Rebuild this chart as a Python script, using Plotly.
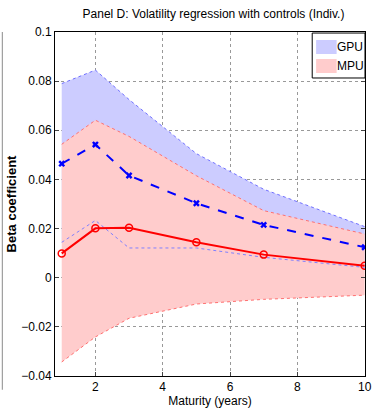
import plotly.graph_objects as go

maturity = [1, 2, 3, 5, 7, 10]
gpu_beta = [0.0464, 0.0542, 0.0416, 0.0303, 0.0215, 0.0124]
gpu_upper = [0.0790, 0.0845, 0.0725, 0.0505, 0.0360, 0.0208]
gpu_lower = [0.0144, 0.0233, 0.0121, 0.0121, 0.0083, 0.0042]
mpu_beta = [0.0099, 0.0201, 0.0203, 0.0144, 0.0094, 0.0049]
mpu_upper = [0.0543, 0.0641, 0.0575, 0.0415, 0.0273, 0.0178]
mpu_lower = [-0.0343, -0.0241, -0.0165, -0.0107, -0.0088, -0.0071]

series_names = ["GPU", "MPU"]
x_ticks = [2, 4, 6, 8, 10]
y_ticks = [-0.04, -0.02, 0, 0.02, 0.04, 0.06, 0.08, 0.1]
y_tick_text = ["\u22120.04", "\u22120.02", "0", "0.02", "0.04", "0.06", "0.08", "0.1"]

FONT = "Liberation Sans, Arial, sans-serif"
BLUE_FILL = "#ccccff"
RED_FILL = "#ffcccc"

fig = go.Figure()

# GPU band
fig.add_trace(go.Scatter(
    x=maturity + maturity[::-1], y=gpu_upper + gpu_lower[::-1],
    fill="toself", fillcolor=BLUE_FILL, mode="lines",
    line=dict(width=0, color=BLUE_FILL), name=series_names[0], hoverinfo="skip"))
fig.add_trace(go.Scatter(x=maturity, y=gpu_upper, mode="lines",
    line=dict(color="#7070ff", width=1, dash="dot")))

# MPU band
fig.add_trace(go.Scatter(
    x=maturity + maturity[::-1], y=mpu_upper + mpu_lower[::-1],
    fill="toself", fillcolor=RED_FILL, mode="lines",
    line=dict(width=0, color=RED_FILL), name=series_names[1], hoverinfo="skip"))
fig.add_trace(go.Scatter(x=maturity, y=mpu_upper, mode="lines",
    line=dict(color="#ff7070", width=1, dash="dot")))
fig.add_trace(go.Scatter(x=maturity, y=mpu_lower, mode="lines",
    line=dict(color="#ff7070", width=1, dash="dot")))
fig.add_trace(go.Scatter(x=maturity, y=gpu_lower, mode="lines",
    line=dict(color="#8080ff", width=1, dash="dot")))

# point estimates
fig.add_trace(go.Scatter(x=maturity, y=gpu_beta, mode="lines+markers",
    line=dict(color="#0000ff", width=2, dash="dash"),
    marker=dict(symbol="x", size=6, color="#0000ff")))
fig.add_trace(go.Scatter(x=maturity, y=mpu_beta, mode="lines+markers",
    line=dict(color="#ff0000", width=2),
    marker=dict(symbol="circle-open", size=7, color="#ff0000",
                line=dict(width=1.5, color="#ff0000"))))

# MATLAB-style legend box (paper coordinates)
shapes = [
    dict(type="rect", xref="paper", yref="paper", x0=0.8297, x1=1.0, y0=0.8663, y1=0.997,
         fillcolor="white", line=dict(color="black", width=1)),
    dict(type="rect", xref="paper", yref="paper", x0=0.8423, x1=0.9085, y0=0.936, y1=0.9767,
         fillcolor=BLUE_FILL, line=dict(width=0)),
    dict(type="rect", xref="paper", yref="paper", x0=0.8423, x1=0.9085, y0=0.8808, y1=0.9215,
         fillcolor=RED_FILL, line=dict(width=0)),
    dict(type="line", xref="paper", yref="paper", x0=-0.170, x1=-0.170, y0=1.0, y1=-0.04,
         line=dict(color="#8a8a8a", width=1)),
]
annotations = [
    dict(xref="paper", yref="paper", x=0.902, y=0.9564, text=series_names[0], showarrow=False,
         xanchor="left", yanchor="middle", font=dict(size=12, family=FONT)),
    dict(xref="paper", yref="paper", x=0.902, y=0.9012, text=series_names[1], showarrow=False,
         xanchor="left", yanchor="middle", font=dict(size=12, family=FONT)),
]

fig.update_layout(
    width=377, height=411,
    margin=dict(l=55, r=5, t=32, b=35),
    paper_bgcolor="white", plot_bgcolor="white",
    font=dict(family=FONT, size=12, color="black"),
    title=dict(text="Panel D: Volatility regression with controls (Indiv.)",
               x=(55 + 372) / 2 / 377, xanchor="center", y=1 - 14 / 411, yanchor="middle",
               font=dict(size=12, family=FONT)),
    showlegend=False,
    shapes=shapes,
    annotations=annotations,
)

fig.update_xaxes(
    range=[0.8, 10.01], tickvals=x_ticks, ticks="inside", ticklen=4,
    ticklabeloverflow="allow",
    showline=True, linecolor="black", linewidth=1, mirror=True,
    showgrid=True, gridcolor="#999999", griddash="dot", gridwidth=1,
    zeroline=False, tickfont=dict(size=12),
    title=dict(text="Maturity (years)", font=dict(size=12), standoff=2))
fig.update_yaxes(
    range=[-0.04, 0.1], tickvals=y_ticks, ticktext=y_tick_text,
    ticks="inside", ticklen=4,
    showline=True, linecolor="black", linewidth=1, mirror="ticks",
    showgrid=True, gridcolor="#999999", griddash="dot", gridwidth=1,
    zeroline=False, tickfont=dict(size=12),
    title=dict(text="<b>Beta coefficient</b>", font=dict(size=13), standoff=1))

fig.write_html(
    "out.html", config={"displayModeBar": False},
    post_script=("document.body.style.margin='0';document.body.style.padding='0';"
                 "document.body.style.overflow='hidden';"
                 "document.documentElement.style.overflow='hidden';"))
